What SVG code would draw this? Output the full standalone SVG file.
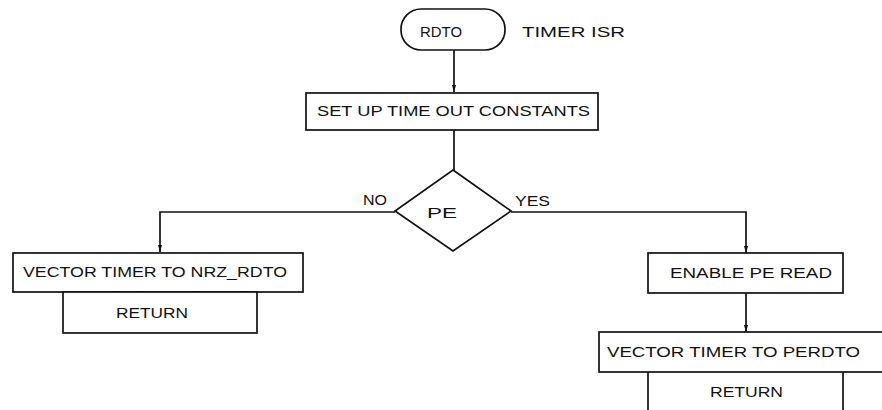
<svg xmlns="http://www.w3.org/2000/svg" width="882" height="410" viewBox="0 0 882 410">
<style>
.s{fill:#fff;stroke:#111;stroke-width:1.7}
.c{fill:none;stroke:#111;stroke-width:1.7}
.t{font-family:"Liberation Sans",Arial,sans-serif;font-size:15px;fill:#111}
</style>
<defs>
<marker id="arr" markerWidth="7" markerHeight="12" refX="12" refY="3.5" orient="auto" markerUnits="userSpaceOnUse" viewBox="0 0 12 7">
<path d="M0,0 L12,3.5 L0,7 Z" fill="#111"/>
</marker>
</defs>
<rect width="882" height="410" fill="#fff"/>
<g id="connectors">
<path class="c" d="M454,50 V92" marker-end="url(#arr)"/>
<path class="c" d="M454,130 V170"/>
<path class="c" d="M395,212 H160 V252" marker-end="url(#arr)"/>
<path class="c" d="M511,212 H746 V253" marker-end="url(#arr)"/>
<path class="c" d="M746,293 V332" marker-end="url(#arr)"/>
</g>
<g id="start">
<rect class="s" x="401" y="9" width="104" height="41" rx="20"/>
<text class="t" x="420" y="37" textLength="42" lengthAdjust="spacingAndGlyphs">RDTO</text>
</g>
<g id="label-isr">
<text class="t" x="522" y="37" textLength="103" lengthAdjust="spacingAndGlyphs">TIMER ISR</text>
</g>
<g id="setup">
<rect class="s" x="306" y="93" width="292" height="37"/>
<text class="t" x="317" y="116" textLength="273" lengthAdjust="spacingAndGlyphs">SET UP TIME OUT CONSTANTS</text>
</g>
<g id="decision">
<polygon class="s" points="453,170 511,211 453,251 395,211"/>
<text class="t" x="427" y="218" textLength="30" lengthAdjust="spacingAndGlyphs">PE</text>
</g>
<g id="label-no">
<text class="t" x="363" y="205" textLength="24" lengthAdjust="spacingAndGlyphs">NO</text>
</g>
<g id="label-yes">
<text class="t" x="515" y="206" textLength="35" lengthAdjust="spacingAndGlyphs">YES</text>
</g>
<g id="vector-nrz">
<rect class="s" x="13" y="253" width="290" height="39"/>
<text class="t" x="23" y="277" textLength="264" lengthAdjust="spacingAndGlyphs">VECTOR TIMER TO NRZ_RDTO</text>
</g>
<g id="return-left">
<rect class="s" x="63" y="292" width="194" height="41"/>
<text class="t" x="116" y="318" textLength="72" lengthAdjust="spacingAndGlyphs">RETURN</text>
</g>
<g id="enable-pe">
<rect class="s" x="648" y="253" width="195" height="40"/>
<text class="t" x="670" y="278" textLength="162" lengthAdjust="spacingAndGlyphs">ENABLE PE READ</text>
</g>
<g id="vector-perdto">
<rect class="s" x="599" y="332" width="300" height="40"/>
<text class="t" x="607" y="357" textLength="253" lengthAdjust="spacingAndGlyphs">VECTOR TIMER TO PERDTO</text>
</g>
<g id="return-right">
<path class="c" d="M648,372 V412 M843,372 V412"/>
<text class="t" x="710" y="397" textLength="73" lengthAdjust="spacingAndGlyphs">RETURN</text>
</g>
</svg>
